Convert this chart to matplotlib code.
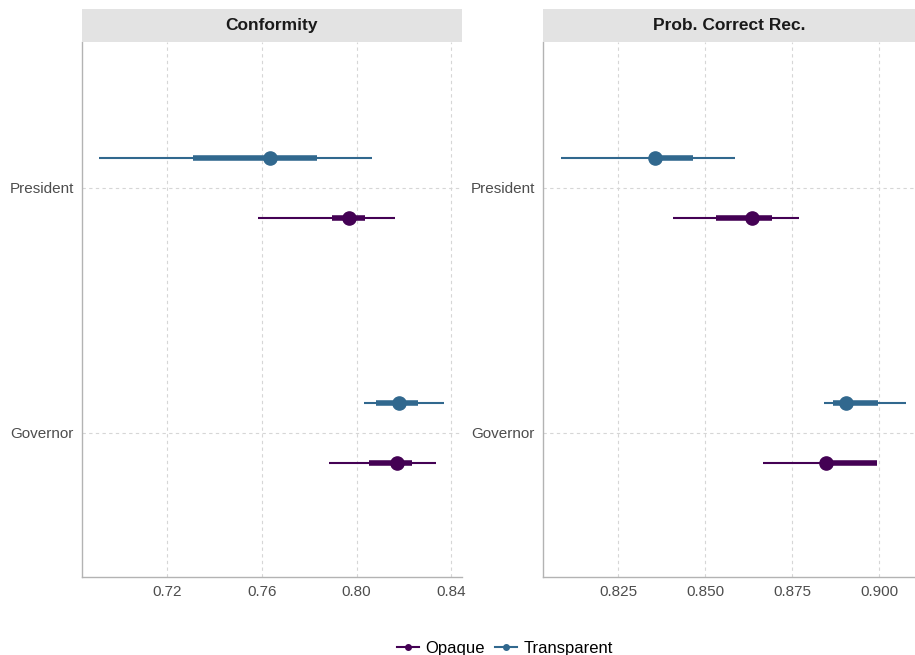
import matplotlib
matplotlib.use('Agg')
import matplotlib.pyplot as plt
from matplotlib.lines import Line2D

plt.rcParams['font.family'] = ['Liberation Sans', 'DejaVu Sans']

# Categories (bottom to top)
offices = ['Governor', 'President']

# Conformity panel
conf_opaque_pt = [0.8171, 0.7968]
conf_opaque_lo95 = [0.7882, 0.7582]
conf_opaque_hi95 = [0.8335, 0.8160]
conf_opaque_lo66 = [0.8052, 0.7896]
conf_opaque_hi66 = [0.8233, 0.8037]

conf_transp_pt = [0.8177, 0.7635]
conf_transp_lo95 = [0.8031, 0.6912]
conf_transp_hi95 = [0.8371, 0.8064]
conf_transp_lo66 = [0.8081, 0.7307]
conf_transp_hi66 = [0.8258, 0.7834]

# Prob. correct rec. panel
prob_opaque_pt = [0.8848, 0.8636]
prob_opaque_lo95 = [0.8666, 0.8409]
prob_opaque_hi95 = [0.8993, 0.8771]
prob_opaque_lo66 = [0.8830, 0.8531]
prob_opaque_hi66 = [0.8993, 0.8693]

prob_transp_pt = [0.8905, 0.8357]
prob_transp_lo95 = [0.8842, 0.8086]
prob_transp_hi95 = [0.9077, 0.8586]
prob_transp_lo66 = [0.8866, 0.8342]
prob_transp_hi66 = [0.8996, 0.8465]

conf_ticks = [0.72, 0.76, 0.80, 0.84]
prob_ticks = [0.825, 0.850, 0.875, 0.900]

OPAQUE = '#440154'
TRANSP = '#31688E'
GRID = '#D6D6D6'
TXT = '#4D4D4D'

W, H = 915, 655
fig = plt.figure(figsize=(W / 100, H / 100), dpi=100)


def px_axes(x0, y0, x1, y1):
    return fig.add_axes([x0 / W, 1 - y1 / H, (x1 - x0) / W, (y1 - y0) / H])


def draw_series(ax, pts, lo95, hi95, lo66, hi66, offset, color):
    for i in range(len(offices)):
        y = i + offset
        ax.plot([lo95[i], hi95[i]], [y, y], color=color, lw=1.5,
                solid_capstyle='butt', zorder=3)
        ax.plot([lo66[i], hi66[i]], [y, y], color=color, lw=4,
                solid_capstyle='butt', zorder=4)
        ax.plot(pts[i], y, 'o', color=color, ms=9.5, zorder=5)


def style_panel(ax, title, ticks, fmt, xlim):
    ax.set_xlim(*xlim)
    ax.set_ylim(-0.588, 1.596)
    ax.set_xticks(ticks)
    ax.set_xticklabels([fmt.format(t) for t in ticks])
    ax.set_yticks(range(len(offices)))
    ax.set_yticklabels(offices)
    ax.tick_params(length=0, labelsize=11, labelcolor=TXT, pad=6)
    ax.grid(True, color=GRID, linestyle=(0, (3, 3)), linewidth=0.8)
    ax.set_axisbelow(True)
    for s in ['top', 'right']:
        ax.spines[s].set_visible(False)
    for s in ['left', 'bottom']:
        ax.spines[s].set_color('#B3B3B3')
        ax.spines[s].set_linewidth(1.0)

    # facet strip
    pos = ax.get_position()
    strip = fig.add_axes([pos.x0, pos.y1, pos.width, 33 / H])
    strip.set_facecolor('#E3E3E3')
    strip.set_xticks([])
    strip.set_yticks([])
    for s in strip.spines.values():
        s.set_visible(False)
    strip.text(0.5, 0.5, title, ha='center', va='center', fontsize=12.5,
               fontweight='bold', color='#1A1A1A', transform=strip.transAxes)


dodge = 0.122

ax1 = px_axes(82, 42, 462, 577)
draw_series(ax1, conf_opaque_pt, conf_opaque_lo95, conf_opaque_hi95,
            conf_opaque_lo66, conf_opaque_hi66, -dodge, OPAQUE)
draw_series(ax1, conf_transp_pt, conf_transp_lo95, conf_transp_hi95,
            conf_transp_lo66, conf_transp_hi66, dodge, TRANSP)
style_panel(ax1, 'Conformity', conf_ticks, '{:.2f}', (0.684, 0.8445))

ax2 = px_axes(543, 42, 915, 577)
draw_series(ax2, prob_opaque_pt, prob_opaque_lo95, prob_opaque_hi95,
            prob_opaque_lo66, prob_opaque_hi66, -dodge, OPAQUE)
draw_series(ax2, prob_transp_pt, prob_transp_lo95, prob_transp_hi95,
            prob_transp_lo66, prob_transp_hi66, dodge, TRANSP)
style_panel(ax2, 'Prob. Correct Rec.', prob_ticks, '{:.3f}', (0.8034, 0.9103))

handles = [
    Line2D([0], [0], color=OPAQUE, lw=1.5, marker='o', ms=4, label='Opaque'),
    Line2D([0], [0], color=TRANSP, lw=1.5, marker='o', ms=4, label='Transparent'),
]
fig.legend(handles=handles, loc='center', bbox_to_anchor=(505 / W, 1 - 648 / H),
           ncol=2, frameon=False, fontsize=12, handlelength=1.3,
           handletextpad=0.4, columnspacing=0.6)

fig.savefig('out.png', dpi=100, facecolor='white')
